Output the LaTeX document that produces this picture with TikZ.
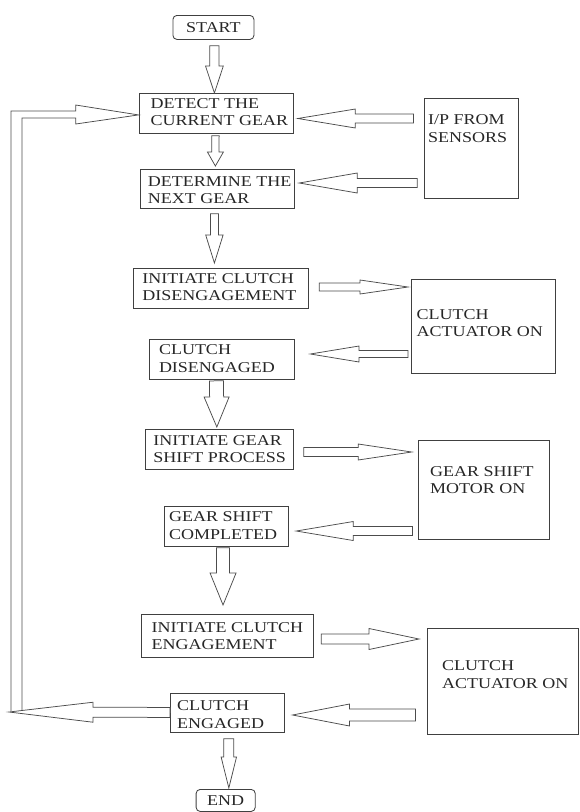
\documentclass[tikz,border=0pt]{standalone}
\usepackage{fontspec}
\setmainfont[FakeStretch=1.2]{Liberation Serif}
\usetikzlibrary{calc}
\tikzset{
  box/.style={draw=black!75, line width=0.85pt, anchor=north west, inner sep=0pt},
  rbox/.style={box, rounded corners=4pt},
  txt/.style={anchor=west, align=left, inner sep=0pt, font=\fontsize{15}{17.5}\selectfont, text=black!85},
  ctxt/.style={txt, anchor=center, align=center},
  arrowline/.style={draw=black!70, line width=0.75pt, line join=miter, fill=white},
}
% #1 start, #2 end, #3 shaft half width, #4 head half width, #5 head length
\newcommand\blockarrow[5]{%
  \draw[arrowline] let \p1=#1, \p2=#2,
      \n1={atan2(\y2-\y1,\x2-\x1)}, \n2={veclen(\x2-\x1,\y2-\y1)} in
    [shift={(\p1)}, rotate=\n1]
    (0,-#3) -- ({\n2-#5},-#3) -- ({\n2-#5},-#4) -- (\n2,0) --
    ({\n2-#5},#4) -- ({\n2-#5},#3) -- (0,#3) -- cycle;}
\begin{document}
\begin{tikzpicture}[x=1pt, y=-1pt]
\useasboundingbox (0,0) rectangle (579,812);

% boxes
\node[rbox, minimum width=81pt,    minimum height=24pt]  (start) at (172.5,15) {};
\node[box,  minimum width=154pt,   minimum height=40pt]  (det)   at (138.5,93) {};
\node[box,  minimum width=94.4pt,  minimum height=100pt] (ip)    at (423.6,98) {};
\node[box,  minimum width=154.7pt, minimum height=39pt]  (dtm)   at (139.6,169) {};
\node[box,  minimum width=175.3pt, minimum height=40pt]  (icd)   at (133,268) {};
\node[box,  minimum width=143.7pt, minimum height=94pt]  (act1)  at (411,279) {};
\node[box,  minimum width=145.4pt, minimum height=40pt]  (cdis)  at (148.9,338.5) {};
\node[box,  minimum width=147.8pt, minimum height=40pt]  (igs)   at (145,429) {};
\node[box,  minimum width=130.6pt, minimum height=99pt]  (mot)   at (418.4,440) {};
\node[box,  minimum width=123.7pt, minimum height=40pt]  (gsc)   at (164.3,506) {};
\node[box,  minimum width=171.6pt, minimum height=43pt]  (ice)   at (141.4,614) {};
\node[box,  minimum width=151pt,   minimum height=106pt] (act2)  at (427,628) {};
\node[box,  minimum width=113.6pt, minimum height=39pt]  (ceng)  at (170,693) {};
\node[rbox, minimum width=59.1pt,  minimum height=22pt]  (end)   at (195.7,789) {};

% texts
\node[ctxt] (startT) at (start.center) {START};
\node[txt] (detT)  at (150.5,112)   {DETECT THE\\CURRENT GEAR};
\node[txt] (ipT)   at (428,128.5)   {I/P FROM\\SENSORS};
\node[txt] (dtmT)  at (147.7,190)   {DETERMINE THE\\NEXT GEAR};
\node[txt] (icdT)  at (142.2,287)   {INITIATE CLUTCH\\DISENGAGEMENT};
\node[txt] (act1T) at (416.5,323)   {CLUTCH\\ACTUATOR ON};
\node[txt] (cdisT) at (158.8,358.5) {CLUTCH\\DISENGAGED};
\node[txt] (igsT)  at (153.2,449)   {INITIATE GEAR\\SHIFT PROCESS};
\node[txt] (motT)  at (430,480.3)   {GEAR SHIFT\\MOTOR ON};
\node[txt] (gscT)  at (169,525.5)   {GEAR SHIFT\\COMPLETED};
\node[txt] (iceT)  at (151.4,636)   {INITIATE CLUTCH\\ENGAGEMENT};
\node[txt] (act2T) at (442,674.5)   {CLUTCH\\ACTUATOR ON};
\node[txt] (cengT) at (177,714.7)   {CLUTCH\\ENGAGED};
\node[ctxt] (endT) at (end.center)  {END};

% vertical flow arrows
\blockarrow{($(start.south)+(1,6)$)}{($(det.north)+(-1.5,0)$)}{4.6}{8.9}{27}
\blockarrow{($(det.south)+(-0.5,2)$)}{($(dtm.north)+(-2,-3)$)}{3.7}{8}{14}
\blockarrow{($(dtm.south)+(-3,5)$)}{($(icd.north)+(-6.65,-5)$)}{4}{8.7}{28}
\blockarrow{($(cdis.south)+(-5.5,1.5)$)}{($(igs.north)+(-2.5,-2)$)}{7}{12.5}{30}
\blockarrow{($(gsc.south)+(-3.5,1)$)}{($(ice.north)+(-4.6,-9)$)}{6.5}{13}{32}
\blockarrow{($(ceng.south)+(1.6,6)$)}{($(end.north)+(3.15,-1)$)}{5}{7.7}{31}

% horizontal arrows
\blockarrow{($(ip.north west)+(-10,20.5)$)}{($(det.north east)+(4.5,25.5)$)}{4.5}{9.5}{57.5}
\blockarrow{($(ip.north west)+(-6.3,85)$)}{($(dtm.north east)+(4.1,14)$)}{4.5}{10}{58}
\blockarrow{($(icd.north east)+(10,19)$)}{($(act1.north west)+(-3,8)$)}{4}{7}{48}
\blockarrow{($(act1.north west)+(-3,75)$)}{($(cdis.north east)+(15.2,15.5)$)}{3.5}{8}{48.7}
\blockarrow{($(igs.north east)+(10,23)$)}{($(mot.north west)+(-6.7,12)$)}{4.5}{8}{53.5}
\blockarrow{($(mot.north west)+(-5.9,91)$)}{($(gsc.north east)+(7.4,25)$)}{4.5}{9.5}{57}
\blockarrow{($(ice.north east)+(7.5,25)$)}{($(act2.north west)+(-8,11)$)}{5}{10.5}{50}
\blockarrow{($(act2.north west)+(-11.6,87)$)}{($(ceng.north east)+(8.1,22)$)}{6}{11}{57}

% feedback loop
\coordinate (fbbot) at (9,712);
\coordinate (fbo) at (11,711);
\coordinate (fbi) at (22,710);
\blockarrow{($(ceng.west)+(0,-0.5)$)}{(fbbot)}{5}{10}{84}
\draw[arrowline, fill=none] (fbo) -- (11,111) -- (75.7,111) -- (75.7,105)
  -- ($(det.west)+(0,1.5)$) -- (75.7,124) -- (75.7,118) -- (22,118) -- (fbi);
\end{tikzpicture}
\end{document}
